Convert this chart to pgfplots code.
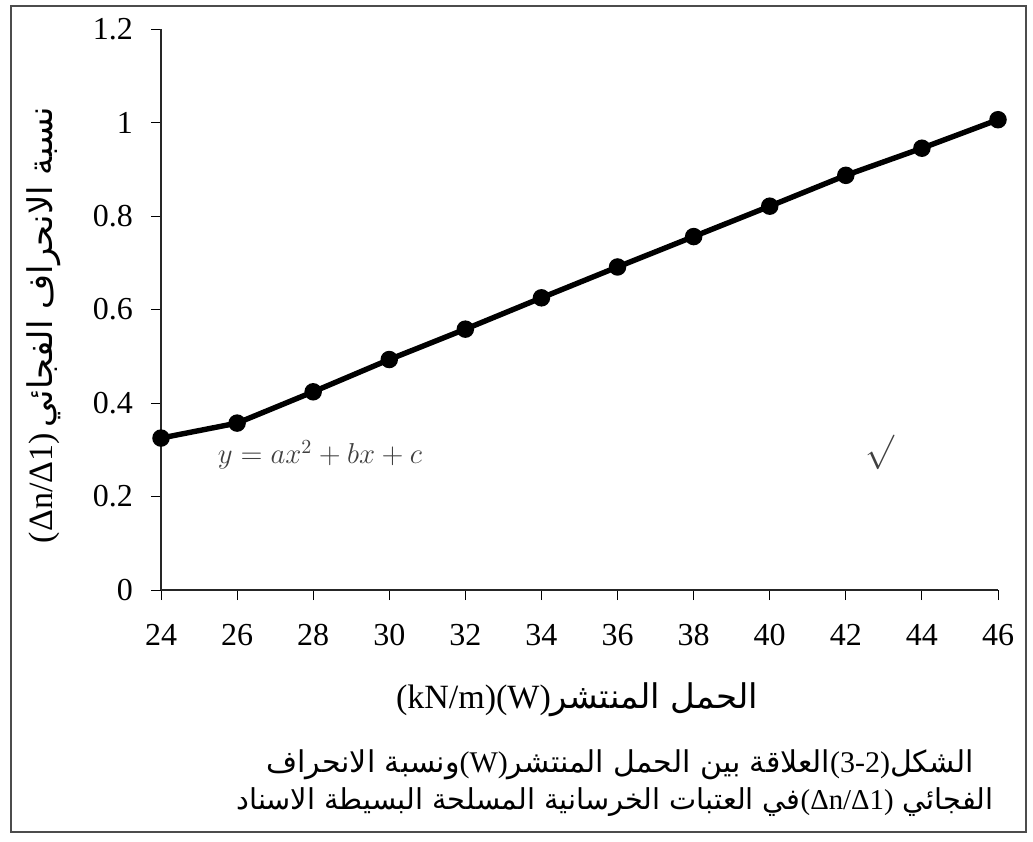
\documentclass[border=0pt]{standalone}
\usepackage{fontspec}
\setmainfont{Liberation Serif}
\newfontfamily\arabicfont[Script=Arabic]{DejaVu Sans}
\TeXXeTstate=1
\usepackage{pgfplots}
\pgfplotsset{compat=1.18}
% a right-to-left Arabic run, and a left-to-right Latin piece inside it
\newcommand{\ar}[1]{{\arabicfont\beginR #1\endR}}
\newcommand{\la}[1]{\beginL{\rmfamily #1}\endL}

\begin{document}
\begin{tikzpicture}
% page frame, coordinates in pixels from the top-left corner
\begin{scope}[x=0.5pt,y=-0.5pt]
  \useasboundingbox (0,0) rectangle (1033,841);
  \draw[black!70, line width=1.1pt] (11,6) rectangle (1026,832);
\end{scope}

\begin{axis}[
  at={(80.5pt,-295pt)}, anchor=south west,
  scale only axis, width=418.5pt, height=280.5pt,
  xmin=24, xmax=46, ymin=0, ymax=1.2,
  axis lines=left,
  axis line style={-, line width=1.1pt, black!85},
  xtick={24,26,28,30,32,34,36,38,40,42,44,46},
  ytick={0,0.2,0.4,0.6,0.8,1,1.2},
  tick align=outside,
  major tick length=5pt,
  tick style={black, line width=0.5pt},
  ticklabel style={font=\fontsize{16}{19}\selectfont},
  /pgf/number format/assume math mode=true,
  yticklabel style={xshift=-5.5pt},
  xticklabel style={yshift=-8.5pt},
  clip=false,
]
\addplot[black, line width=2.7pt, mark=*, mark size=3pt]
  coordinates {(24,0.325) (26,0.357) (28,0.424) (30,0.493) (32,0.558) (34,0.625)
               (36,0.691) (38,0.756) (40,0.821) (42,0.887) (44,0.945) (46,1.006)};
\end{axis}

\begin{scope}[x=0.5pt,y=-0.5pt]
  % axis titles
  \node[rotate=90, font=\fontsize{17}{20}\selectfont] at (44,325)
    {(Δn/Δ1)\,\ar{نسبة الانحراف الفجائي}};
  \node[font=\fontsize{17}{20}\selectfont] at (577,700)
    {(kN/m)(W)\ar{الحمل المنتشر}};
  % figure caption
  \node[font=\fontsize{15}{18}\selectfont] at (620,765)
    {\ar{الشكل\la{(3-2)}العلاقة بين الحمل المنتشر\la{(W)}ونسبة الانحراف}};
  \node[font=\fontsize{14.4}{17}\selectfont] at (615,802)
    {\ar{الفجائي \la{(Δn/Δ1)}في العتبات الخرسانية المسلحة البسيطة الاسناد}};
  % pencil notes
  \node[black!75, font=\fontsize{14}{16}\selectfont] at (320,455) {$y=ax^2+bx+c$};
  \node[black!75, font=\fontsize{18}{20}\selectfont] at (880,452) {$\surd$};
\end{scope}
\end{tikzpicture}
\end{document}
